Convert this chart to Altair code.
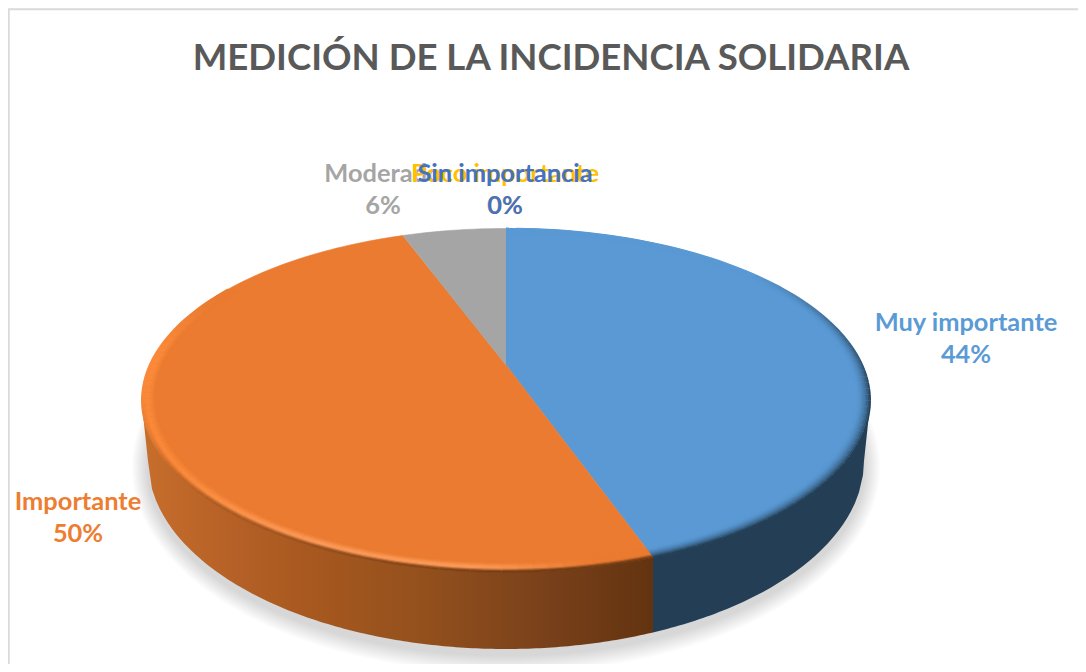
import math
import altair as alt
import pandas as pd

# ---- chart values ----
TITLE = "MEDICIÓN DE LA INCIDENCIA SOLIDARIA"
categories = ["Muy importante", "Importante", "Moderado", "Poco importante", "Sin importancia"]
shares = [44.6, 49.8, 5.6, 0.0, 0.0]
pct_labels = ["44%", "50%", "6%", "0%", "0%"]
colors = ["#5b9bd5", "#ed7d31", "#a5a5a5", "#ffc000", "#4472c4"]
faces = ["#5a99d4", "#ea7b30", "#a5a5a5", "#ffc000", "#4472c4"]

# ---- layout (page pixels) ----
label_x = [966, 78, 383, 505, 505]
label_y = [323, 502, 174, 174, 174]
LINE_GAP = 31.5
CX, CY = 506, 365          # where the wedges meet
A, B, K = 356.4, 164.5, -0.2048   # tilted-disc projection
BOT_CY, BOT_A, BOT_B = 461, 358, 188   # lower edge of the wall
TOP_CY, TOP_A, TOP_B = 400, 364, 172   # rim ellipse


def rim(theta_deg, r=1.0):
    t = math.radians(theta_deg)
    d = 1 - K * r * math.cos(t)
    return CX + A * r * math.sin(t) / d, CY - B * r * math.cos(t) / d


def hex2rgb(h):
    return [int(h[i:i + 2], 16) for i in (1, 3, 5)]


def mix(c1, c2, w):
    w = max(0.0, min(1.0, w))
    a, b = hex2rgb(c1), hex2rgb(c2)
    return "#" + "".join(f"{round(p + (q - p) * w):02x}" for p, q in zip(a, b))


def clamp(v):
    return max(0.0, min(1.0, v))


def smooth(v):
    v = clamp(v)
    return v * v * (3 - 2 * v)


def top_low(x):
    dx = (x - CX) / TOP_A
    return TOP_CY + TOP_B * math.sqrt(max(0.0, 1 - dx * dx))


def bot_low(x):
    dx = x - CX
    if abs(dx) >= BOT_A:
        f = (TOP_A - abs(dx)) / (TOP_A - BOT_A)
        return TOP_CY + 5 + (BOT_CY - TOP_CY - 5) * clamp(f)
    return BOT_CY + BOT_B * math.sqrt(1 - (dx / BOT_A) ** 2)


X = alt.X("x:Q", axis=None, scale=alt.Scale(domain=[8, 1078], nice=False, zero=False))
Y = alt.Y("y:Q", axis=None, scale=alt.Scale(domain=[664, 8], nice=False, zero=False))
X2 = alt.X2("x2:Q")
Y2 = alt.Y2("y2:Q")

layers = []

# frame
frame_v = pd.DataFrame({"x": [8.8], "y": [9.3], "y2": [664]})
frame_h = pd.DataFrame({"x": [8.0], "x2": [1078], "y": [9.3]})
layers.append(alt.Chart(frame_v).mark_rule(color="#d9d9d9", strokeWidth=1.8).encode(x=X, y=Y, y2=Y2))
layers.append(alt.Chart(frame_h).mark_rule(color="#d9d9d9", strokeWidth=2).encode(x=X, x2=X2, y=Y))

# soft shadow under the disc
for g in range(2, 22, 2):
    rows = []
    for i in range(0, 181):
        t = math.radians(i)
        a = BOT_A + g * 0.8
        b = BOT_B + g * 0.9
        px = CX - a * math.cos(t)
        rows.append({"x": px, "y": BOT_CY + 6 - b * math.sin(t), "y2": BOT_CY + 6 + b * math.sin(t)})
    layers.append(alt.Chart(pd.DataFrame(rows)).mark_area(color="#000000", opacity=0.014).encode(x=X, y=Y, y2=Y2))

# boundaries between slices, clockwise from the top
edges = [0.0]
for s in shares:
    edges.append(edges[-1] + s * 3.6)
split_x = rim(edges[1])[0]

# wall
xs = [CX - TOP_A, CX - BOT_A] + [CX - BOT_A + 4 * i for i in range(1, 400) if CX - BOT_A + 4 * i < split_x] + [split_x]
wall_o = pd.DataFrame([{"x": x, "y": top_low(x) - 3, "y2": max(bot_low(x), top_low(x) - 3)} for x in xs])
layers.append(alt.Chart(wall_o).mark_area(
    color=alt.Gradient(gradient="linear", x1=0, x2=1, y1=0, y2=0, stops=[
        alt.GradientStop(color="#c76e2c", offset=0),
        alt.GradientStop(color="#b56026", offset=0.18),
        alt.GradientStop(color="#a8591f", offset=0.32),
        alt.GradientStop(color="#93501d", offset=0.55),
        alt.GradientStop(color="#78401a", offset=0.80),
        alt.GradientStop(color="#633310", offset=1),
    ])).encode(x=X, y=Y, y2=Y2))
xs = [split_x] + [x for x in range(int(split_x) + 2, int(CX + BOT_A), 4)] + [CX + BOT_A, CX + TOP_A]
wall_b = pd.DataFrame([{"x": x, "y": top_low(x) - 3, "y2": max(bot_low(x), top_low(x) - 3)} for x in xs])
layers.append(alt.Chart(wall_b).mark_area(color="#243f55").encode(x=X, y=Y, y2=Y2))

# top face wedges
for i, cat in enumerate(categories):
    if shares[i] <= 0:
        continue
    a0, a1 = edges[i], edges[i + 1]
    n = max(2, int((a1 - a0) / 1.5))
    pts = [(CX, CY)] + [rim(a0 + (a1 - a0) * j / n) for j in range(n + 1)]
    df = pd.DataFrame([{"x": p[0], "y": p[1], "o": j} for j, p in enumerate(pts)])
    layers.append(alt.Chart(df).mark_line(fill=faces[i], stroke=faces[i], strokeWidth=0.6).encode(
        x=X, y=Y, order=alt.Order("o:Q")))

# bevel along the rim
bev = []
N_BAND = 10
STEP = 2
for b in range(N_BAND):
    t = b / (N_BAND - 1)
    r = 0.962 + 0.038 * t
    th = 0.0
    while th < 300:
        end = th + STEP
        if th < edges[1]:
            end = min(end, edges[1])
            d = clamp((th - 50) / 50)
            c = mix(faces[0], "#243f55", d * t * t)
        else:
            hi = smooth((298 - th) / 28) * smooth((th - 165) / 20)
            pale = smooth((240 - th) / 40)
            glow = mix("#fb8a3a", "#fb9a58", pale)
            c = mix(faces[1], glow, hi * smooth(t / 0.6))
            # outer edge melts into the wall along the bottom
            wall_tone = mix("#b56026", "#6f3a14", smooth((240 - th) / 75))
            melt = smooth((265 - th) / 45)
            c = mix(c, wall_tone, melt * smooth((t - 0.62) / 0.38))
        x0, y0 = rim(th, r)
        x1, y1 = rim(end, r)
        bev.append({"x": x0, "y": y0, "x2": x1, "y2": y1, "c": c})
        th = end
layers.append(alt.Chart(pd.DataFrame(bev)).mark_rule(strokeWidth=1.7).encode(
    x=X, y=Y, x2=X2, y2=Y2, color=alt.Color("c:N", scale=None)))

# data labels
for i, cat in enumerate(categories):
    lab = pd.DataFrame({"x": [label_x[i], label_x[i]],
                        "y": [label_y[i], label_y[i] + LINE_GAP],
                        "t": [cat, pct_labels[i]]})
    layers.append(alt.Chart(lab).mark_text(
        font="Lato", fontWeight="bold", fontSize=25.4, color=colors[i], align="center", baseline="middle"
    ).encode(x=X, y=Y, text="t:N"))

# title
ttl = pd.DataFrame({"x": [551], "y": [59], "t": [TITLE]})
layers.append(alt.Chart(ttl).mark_text(
    font="Lato", fontWeight="bold", fontSize=36.6, color="#595959", align="center", baseline="middle"
).encode(x=X, y=Y, text="t:N"))

chart = alt.layer(*layers).properties(
    width=1070, height=656, padding=0,
    autosize=alt.AutoSizeParams(type="none"),
    background="white",
).configure_view(stroke=None)

chart.save("out.html", embed_options={"renderer": "svg", "actions": False})
